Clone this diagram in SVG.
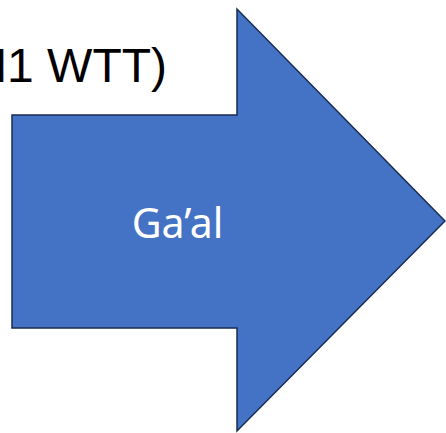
<svg xmlns="http://www.w3.org/2000/svg" width="446" height="433" viewBox="0 0 446 433">
<style>
.label{font-family:"Liberation Sans",Arial,sans-serif;font-size:48px;fill:#000}
.inner{font-family:"Noto Sans","Open Sans",sans-serif;font-size:41px;fill:#fff}
.arrow{fill:#4472C4;stroke:#172C51;stroke-width:1.5;stroke-linejoin:miter}
</style>
<rect width="446" height="433" fill="#fff"/>
<g id="title">
<text class="label" x="167" y="82" text-anchor="end">H1 WTT)</text>
</g>
<g id="arrow">
<polygon class="arrow" points="12,115 237,115 237,9 445,221 237,431 237,328 12,328"/>
<text class="inner" x="177.5" y="238" text-anchor="middle">Ga’al</text>
</g>
</svg>
